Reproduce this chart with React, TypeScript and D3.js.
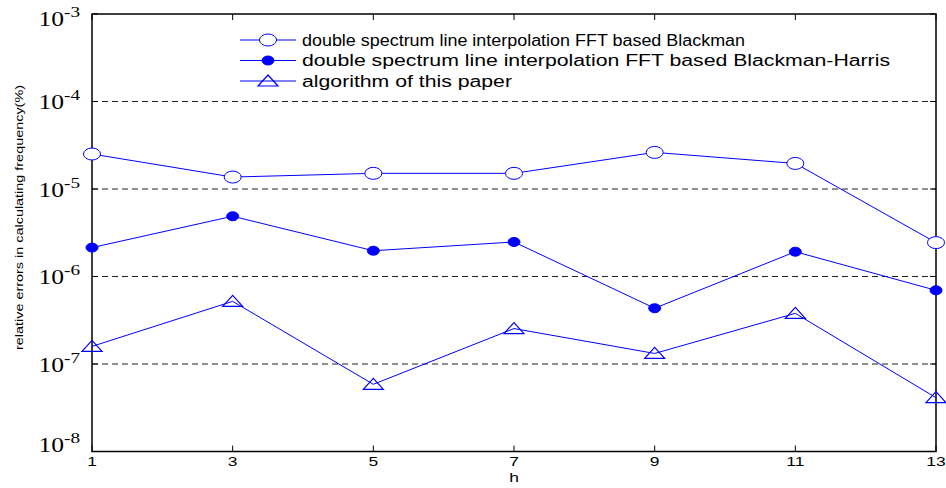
import React from "react";
import * as d3 from "d3";

const hValues = [1, 3, 5, 7, 9, 11, 13];
const blackman = [2.51e-5, 1.37e-5, 1.51e-5, 1.51e-5, 2.62e-5, 1.96e-5, 2.44e-6];
const blackmanHarris = [2.14e-6, 4.88e-6, 1.97e-6, 2.48e-6, 4.34e-7, 1.92e-6, 6.95e-7];
const thisPaper = [1.59e-7, 5.2e-7, 5.86e-8, 2.54e-7, 1.32e-7, 3.79e-7, 4.12e-8];
const yTickExps = [-3, -4, -5, -6, -7, -8];
const gridExps = [-4, -5, -6, -7];
const legendLabels = [
  "double spectrum line interpolation FFT based Blackman",
  "double spectrum line interpolation FFT based Blackman-Harris",
  "algorithm of this paper",
];
const legendLengths = [443, 588, 210];

const W = 946;
const H = 488;
const L = 92, R = 936, T = 14, B = 451.5;
const BLUE = "#0000ff";

function Marker({ kind, x, y }: { kind: number; x: number; y: number }) {
  if (kind === 0)
    return <ellipse cx={x} cy={y} rx={8.5} ry={6} fill="white" stroke={BLUE} strokeWidth={1} />;
  if (kind === 1)
    return <ellipse cx={x} cy={y} rx={6} ry={4.5} fill={BLUE} stroke={BLUE} strokeWidth={1} />;
  const hw = 10, hh = 5;
  return (
    <path
      d={`M${x},${y - hh - 1}L${x + hw},${y + hh}L${x - hw},${y + hh}Z`}
      fill="none"
      stroke={BLUE}
      strokeWidth={1.2}
    />
  );
}

export default function App() {
  const x = d3.scaleLinear().domain([1, 13]).range([L, R]);
  const y = d3.scaleLog().domain([1e-8, 1e-3]).range([B, T]);
  const series = [blackman, blackmanHarris, thisPaper];
  const line = d3
    .line<number>()
    .x((_, i) => x(hValues[i]))
    .y((d) => y(d));

  return (
    <div>
      <style>{"html,body{margin:0;padding:0;overflow:hidden}"}</style>
      <svg
        width={W}
        height={H}
        style={{ display: "block", background: "white", position: "absolute", left: 0, top: 0 }}
      >
        <rect x={0} y={0} width={W} height={H} fill="white" />
        {/* grid */}
        {gridExps.map((e) => (
          <line
            key={e}
            x1={L}
            x2={R}
            y1={y(Math.pow(10, e))}
            y2={y(Math.pow(10, e))}
            stroke="#222"
            strokeWidth={1}
            strokeDasharray="6,4"
          />
        ))}
        {/* x ticks */}
        {hValues.map((h) => (
          <g key={h}>
            <line x1={x(h)} x2={x(h)} y1={B} y2={B - 6} stroke="black" strokeWidth={1} />
            <line x1={x(h)} x2={x(h)} y1={T} y2={T + 6} stroke="black" strokeWidth={1} />
            <text
              transform={`translate(${x(h)},${466}) scale(1.45,1)`}
              textAnchor="middle"
              fontFamily="Liberation Sans, Arial, sans-serif"
              fontSize={12}
              fill="black"
            >
              {h}
            </text>
          </g>
        ))}
        {/* y ticks */}
        {yTickExps.map((e) => {
          const gy = y(Math.pow(10, e));
          const by = Math.min(Math.max(gy + 7.5, 26), 451.5);
          return (
            <g key={e}>
              <line x1={L} x2={L + 6} y1={gy} y2={gy} stroke="black" />
              <line x1={R} x2={R - 6} y1={gy} y2={gy} stroke="black" />
              <text
                x={38.5}
                y={by}
                fontFamily="Liberation Serif, Times New Roman, serif"
                fontSize={20}
                fill="black"
                textLength={41.5}
                lengthAdjust="spacingAndGlyphs"
              >
                10
                <tspan fontSize={15} dy={-9}>
                  {"-" + Math.abs(e)}
                </tspan>
              </text>
            </g>
          );
        })}
        {/* frame */}
        <rect x={L} y={T} width={R - L} height={B - T} fill="none" stroke="black" strokeWidth={1.5} />
        {/* series */}
        {series.map((s, k) => (
          <g key={k}>
            <path d={line(s) || ""} fill="none" stroke={BLUE} strokeWidth={1} />
            {s.map((v, i) => (
              <Marker key={i} kind={k} x={x(hValues[i])} y={y(v)} />
            ))}
          </g>
        ))}
        {/* legend */}
        {legendLabels.map((lab, k) => {
          const ly = 40 + k * 20.5;
          return (
            <g key={k}>
              <line x1={240} x2={296} y1={ly} y2={ly} stroke={BLUE} strokeWidth={1} />
              <Marker kind={k} x={268} y={ly} />
              <text
                x={302}
                y={ly + 5.5}
                fontFamily="Liberation Sans, Arial, sans-serif"
                fontSize={16}
                fill="black"
                textLength={legendLengths[k]}
                lengthAdjust="spacingAndGlyphs"
              >
                {lab}
              </text>
            </g>
          );
        })}
        {/* axis labels */}
        <text
          transform={`translate(514,482) scale(1.45,1)`}
          textAnchor="middle"
          fontFamily="Liberation Sans, Arial, sans-serif"
          fontSize={12}
          fill="black"
        >
          h
        </text>
        <text
          transform="translate(23,217.5) rotate(-90)"
          textAnchor="middle"
          fontFamily="Liberation Sans, Arial, sans-serif"
          fontSize={11}
          fill="black"
          textLength={265}
          lengthAdjust="spacingAndGlyphs"
        >
          relative errors in calculating frequency(%)
        </text>
      </svg>
    </div>
  );
}
